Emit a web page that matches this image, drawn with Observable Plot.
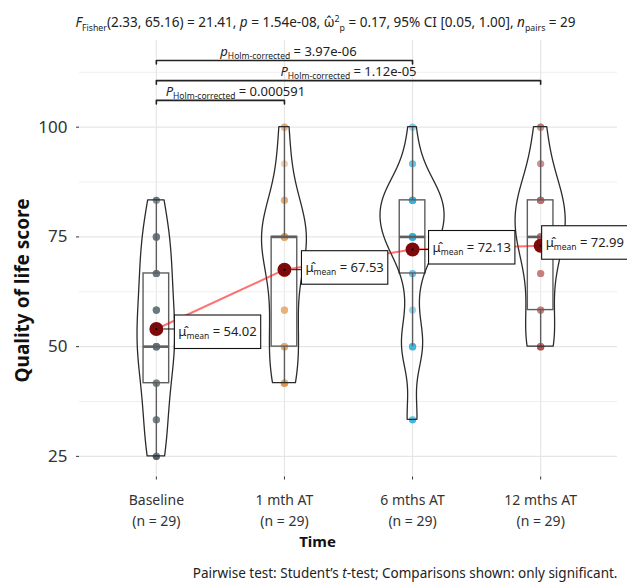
<!DOCTYPE html>
<html><head><meta charset="utf-8">
<script src="https://cdn.jsdelivr.net/npm/d3@7"></script>
<script src="https://cdn.jsdelivr.net/npm/@observablehq/plot@0.6"></script>
<style>html,body{margin:0;padding:0;background:#fff} svg{display:block}</style>
</head><body><div id="chart"></div>
<script>
// ---------- data ----------
const categories = ["Baseline", "1 mth AT", "6 mths AT", "12 mths AT"];
const baselineScores = [25,25,25,33.33,33.33,33.33,41.67,41.67,41.67,50,50,50,50,50,50,58.33,58.33,58.33,58.33,66.67,66.67,66.67,66.67,75,75,75,75,83.33,83.33];
const oneMonthScores = [41.67,41.67,41.67,41.67,50,50,50,50,58.33,58.33,58.33,66.67,66.67,66.67,75,75,75,75,75,75,75,75,75,83.33,83.33,83.33,91.67,100,100];
const sixMonthScores = [33.33,33.33,50,50,50,50,58.33,66.67,66.67,75,75,75,75,75,75,75,75,83.33,83.33,83.33,83.33,83.33,83.33,83.33,83.33,83.33,91.67,91.67,100];
const twelveMonthScores = [50,50,50,50,50,58.33,58.33,58.33,66.67,66.67,66.67,75,75,75,75,75,75,75,83.33,83.33,83.33,83.33,83.33,83.33,83.33,91.67,91.67,100,100];
const meanValues = [54.02, 67.53, 72.13, 72.99];
const pairFrom = ["Baseline", "Baseline", "Baseline"];
const pairTo = ["6 mths AT", "12 mths AT", "1 mth AT"];
const pairSymbol = ["p", "P", "P"];
const pairP = ["3.97e-06", "1.12e-05", "0.000591"];
const bracketY = [115.2, 110.6, 106.1];
const yTicks = [25, 50, 75, 100];
const yMinorTicks = [37.5, 62.5, 87.5, 112.5];
const fisherDf = ["2.33", "65.16"];
const fStat = "21.41", pValue = "1.54e-08", omega2 = "0.17", omegaCI = ["0.05", "1.00"], nPairs = 29;
const groupColors = ["#374E55", "#DF8F44", "#00A1D5", "#B24745"];

// ---------- derived ----------
const groups = [baselineScores, oneMonthScores, sixMonthScores, twelveMonthScores];
const points = groups.flatMap((vals, gi) => vals.map(v => ({g: categories[gi], idx: gi + 1, value: v})));
const means = categories.map((c, gi) => ({g: c, idx: gi + 1, mean: meanValues[gi]}));

function bwNrd0(x) {
  const sd = d3.deviation(x);
  const iqr = d3.quantile(x, 0.75) - d3.quantile(x, 0.25);
  return 0.9 * Math.min(sd, iqr / 1.34) * Math.pow(x.length, -0.2);
}
let violin = [];
groups.forEach((vals, gi) => {
  const h = bwNrd0(vals), lo = d3.min(vals), hi = d3.max(vals), n = 512;
  for (let k = 0; k < n; k++) {
    const y = lo + (hi - lo) * k / (n - 1);
    const d = d3.sum(vals, v => Math.exp(-0.5 * ((y - v) / h) ** 2)) / (vals.length * h * Math.sqrt(2 * Math.PI));
    violin.push({g: categories[gi], idx: gi + 1, y, d});
  }
});
const maxD = d3.max(violin, d => d.d);
violin.forEach(r => r.half = r.d / maxD * 0.25);

const boxes = groups.map((vals, gi) => {
  const q1 = d3.quantile(vals, 0.25), med = d3.quantile(vals, 0.5), q3 = d3.quantile(vals, 0.75);
  const iqr = q3 - q1;
  const lo = d3.min(vals.filter(v => v >= q1 - 1.5 * iqr));
  const hi = d3.max(vals.filter(v => v <= q3 + 1.5 * iqr));
  return {idx: gi + 1, q1, med, q3, lo, hi};
});

const brackets = pairFrom.map((f, k) => ({k, i1: categories.indexOf(f) + 1, i2: categories.indexOf(pairTo[k]) + 1, y: bracketY[k]}));
const tip = 0.8;
const bracketPath = brackets.flatMap(b => [
  {k: b.k, x: b.i1, y: b.y - tip}, {k: b.k, x: b.i1, y: b.y},
  {k: b.k, x: b.i2, y: b.y}, {k: b.k, x: b.i2, y: b.y - tip}]);

const labelNudge = [[22, 3], [21, -2], [20, -2], [5, -3]];
const bracketLabelDx = [4, 0, 15];

const ink = "#333333";
const boxInk = "#363636";
const marks = [
  Plot.gridY(yMinorTicks, {stroke: "#ececec", strokeOpacity: 1, strokeWidth: 0.9}),
  Plot.gridY(yTicks, {stroke: "#e6e6e6", strokeOpacity: 1, strokeWidth: 1.2}),
  Plot.gridX([1, 2, 3, 4], {stroke: "#e6e6e6", strokeOpacity: 1, strokeWidth: 1.2}),
  Plot.axisY(yTicks, {tickSize: 3, tickPadding: 9, fontSize: 17, label: null, stroke: ink, fill: ink}),
  Plot.axisX([1, 2, 3, 4], {tickSize: 3, tickPadding: 10, fontSize: 14, lineHeight: 1.5, label: null, stroke: ink, fill: ink,
    tickFormat: i => `${categories[i - 1]}\n(n = ${groups[i - 1].length})`}),
  // points
  Plot.dot(points, {x: "idx", y: "value", r: 3.6, fill: d => groupColors[d.idx - 1], fillOpacity: 0.5}),
  // boxplots
  Plot.ruleX(boxes, {x: "idx", y1: "q3", y2: "hi", stroke: boxInk, strokeWidth: 1.4}),
  Plot.ruleX(boxes, {x: "idx", y1: "lo", y2: "q1", stroke: boxInk, strokeWidth: 1.4}),
  Plot.rect(boxes, {x1: d => d.idx - 0.1, x2: d => d.idx + 0.1, y1: "q1", y2: "q3", fill: "none", stroke: boxInk, strokeWidth: 1.4}),
  Plot.ruleY(boxes, {y: "med", x1: d => d.idx - 0.1, x2: d => d.idx + 0.1, stroke: boxInk, strokeWidth: 2.6}),
  // violins
  Plot.areaX(violin, {y: "y", x1: d => d.idx - d.half, x2: d => d.idx + d.half, z: "g", fill: "white", fillOpacity: 0.2, stroke: "#2b2b2b", strokeWidth: 1.3}),
  // centrality
  Plot.line(means, {x: "idx", y: "mean", stroke: "red", strokeOpacity: 0.55, strokeWidth: 2}),
  Plot.dot(means, {x: "idx", y: "mean", r: 7, fill: "#7d0a0a"}),
  Plot.dot(means, {x: "idx", y: "mean", r: 1, fill: "#000"}),
  // brackets
  Plot.line(bracketPath, {x: "x", y: "y", z: "k", stroke: "#222", strokeWidth: 1.6}),
  ...brackets.map(b => Plot.text([b], {x: d => (d.i1 + d.i2) / 2, y: "y", text: d => "§b" + d.k, dx: bracketLabelDx[b.k], dy: -9, fontSize: 13, fill: "#222"})),
  ...means.map((m, i) => Plot.text([m], {x: "idx", y: "mean", text: () => "§m" + i, textAnchor: "start", dx: labelNudge[i][0], dy: labelNudge[i][1], fontSize: 12.5, fill: "#222"})),
  // titles
  Plot.text(["§title"], {frameAnchor: "top", dx: -23, dy: -23, fontSize: 13.5, fill: "#222"}),
  Plot.text(["§ylabel"], {frameAnchor: "left", fontSize: 19, fontWeight: "bold", fill: "#111"}),
  Plot.text(["Time"], {frameAnchor: "bottom", dx: -31, dy: 70, fontSize: 15, fontWeight: "bold", fill: "#111"}),
  Plot.text(["§caption"], {frameAnchor: "bottom-right", textAnchor: "end", dy: 101, fontSize: 13.5, fill: "#222"})
];

const svg = Plot.plot({
  width: 627, height: 584,
  marginLeft: 79, marginRight: 10, marginTop: 40, marginBottom: 107.5,
  style: {fontFamily: "'Noto Sans', sans-serif", background: "white"},
  x: {type: "linear", domain: [0.4, 4.6]},
  y: {domain: [20.3, 119.75]},
  marks
});
document.getElementById("chart").appendChild(svg);

// ---------- rich text ----------
function rich(el, parts, base) {
  const t = d3.select(el);
  t.text(null);
  let cur = 0;
  for (const p of parts) {
    const shift = p.sub ? (p.subShift ?? 3.5) : p.sup ? -5 : 0;
    const ts = t.append("tspan").text(p.t);
    if (shift - cur) ts.attr("dy", shift - cur);
    if (p.dx) ts.attr("dx", p.dx);
    ts.attr("font-size", p.size || ((p.sub || p.sup) ? base * 0.65 : base));
    if (p.i) ts.attr("font-style", "italic");
    cur = shift;
  }
}
const hat = "\u0302";
d3.select(svg).selectAll("text").each(function () {
  const s = this.textContent;
  if (!s.startsWith("§")) return;
  if (s === "§title") {
    rich(this, [{t: "F", i: 1}, {t: "Fisher", sub: 1}, {t: `(${fisherDf[0]}, ${fisherDf[1]}) = ${fStat}, `},
      {t: "p", i: 1}, {t: ` = ${pValue}, `}, {t: "ω" + hat}, {t: "2", sup: 1}, {t: "p", sub: 1},
      {t: ` = ${omega2}, 95% CI [${omegaCI[0]}, ${omegaCI[1]}], `}, {t: "n", i: 1}, {t: "pairs", sub: 1}, {t: ` = ${nPairs}`}], 13.5);
  } else if (s === "§ylabel") {
    this.textContent = "Quality of life score";
    this.setAttribute("text-anchor", "middle");
    this.setAttribute("transform", "translate(22,290) rotate(-90)");
  } else if (s === "§caption") {
    rich(this, [{t: "Pairwise test: Student’s "}, {t: "t", i: 1}, {t: "-test; Comparisons shown: only significant."}], 13.5);
  } else if (s.startsWith("§b")) {
    const k = +s.slice(2);
    rich(this, [{t: pairSymbol[k], i: 1}, {t: "Holm-corrected", sub: 1, size: 8.5}, {t: " = " + pairP[k]}], 13);
  } else if (s.startsWith("§m")) {
    const i = +s.slice(2);
    rich(this, [{t: "μ" + hat}, {t: "mean", sub: 1, size: 8.5}, {t: " = " + meanValues[i].toFixed(2)}], 13);
    const bb = this.getBBox();
    const padX = 4, padY = 7;
    const tr = this.getAttribute("transform");
    const parent = this.parentNode;
    const ns = "http://www.w3.org/2000/svg";
    const rect = document.createElementNS(ns, "rect");
    rect.setAttribute("x", bb.x - padX); rect.setAttribute("y", bb.y - padY);
    rect.setAttribute("width", bb.width + 2 * padX); rect.setAttribute("height", bb.height + 2 * padY);
    rect.setAttribute("fill", "white"); rect.setAttribute("stroke", "#111"); rect.setAttribute("stroke-width", 1.1);
    if (tr) rect.setAttribute("transform", tr);
    const [dx, dy] = labelNudge[i];
    const x0 = -dx + 7, x1 = bb.x - padX;
    if (x1 > x0) {
      const line = document.createElementNS(ns, "line");
      line.setAttribute("x1", x0); line.setAttribute("x2", x1);
      const yy = Math.max(bb.y - padY, Math.min(bb.y + bb.height + padY, -dy));
      line.setAttribute("y1", -dy); line.setAttribute("y2", yy);
      line.setAttribute("stroke", "#111"); line.setAttribute("stroke-width", 1);
      if (tr) line.setAttribute("transform", tr);
      parent.insertBefore(line, this);
    }
    parent.insertBefore(rect, this);
  }
});
</script></body></html>
